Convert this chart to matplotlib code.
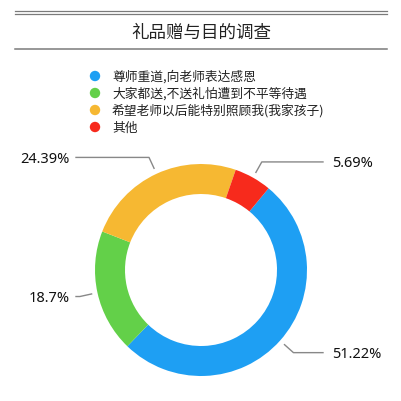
#!/usr/bin/env python3
"""Donut chart: 礼品赠与目的调查"""

import numpy as np
import matplotlib
matplotlib.use("Agg")
import matplotlib.pyplot as plt

plt.rcParams['font.family'] = ['Noto Sans CJK SC', 'DejaVu Sans']

# data
title = "礼品赠与目的调查"
categories = [
    "尊师重道,向老师表达感恩",
    "大家都送,不送礼怕遭到不平等待遇",
    "希望老师以后能特别照顾我(我家孩子)",
    "其他",
]
values = [51.22, 18.7, 24.39, 5.69]
colors = ['#1E9FF3', '#63D049', '#F6B832', '#F72A1C']

W = H = 402  # canvas in pixels, y measured from the top


def py(y):
    # pixel row (from top) -> data y (from bottom)
    return H - y


fig = plt.figure(figsize=(4.02, 4.02), dpi=100)
ax = fig.add_axes([0, 0, 1, 1])

# ring
cx, cy = 201, 271
radius = 106
start = 50.4
ax.pie(values, colors=colors, startangle=start, counterclock=False,
       radius=radius, center=(cx, py(cy)),
       wedgeprops=dict(width=30, edgecolor='none', linewidth=0))

ax.set_xlim(0, W)
ax.set_ylim(0, H)
ax.set_aspect('equal')
ax.axis('off')

# title block with rules
line_color = '#7a7a7a'
ax.plot([15, 387], [py(12.2), py(12.2)], color=line_color, lw=0.9)
ax.plot([15, 387], [py(15.2), py(15.2)], color=line_color, lw=0.9)
ax.plot([15, 387], [py(49.5), py(49.5)], color=line_color, lw=1.1)
ax.text(201, py(33), title, ha='center', va='center', fontsize=12.6, color='#222222')

# legend
for i, (cat, col) in enumerate(zip(categories, colors)):
    y = 77 + i * 17
    ax.add_patch(plt.Circle((95, py(y)), 5.2, color=col, lw=0))
    ax.text(112, py(y), cat, ha='left', va='center', fontsize=9.2, color='#222222')

# percent labels with leader lines
total = sum(values)
cum = 0.0
for v in values:
    mid = np.deg2rad(start - 360 * (cum + v / 2) / total)
    cum += v
    dx, dy = np.cos(mid), np.sin(mid)
    x0, y0 = cx + (radius + 6) * dx, py(cy) + (radius + 6) * dy
    x1, y1 = cx + (radius + 18) * dx, py(cy) + (radius + 18) * dy
    if dx < 0:
        x2, tx, ha = 76, 70, 'right'
    else:
        x2, tx, ha = 323, 332, 'left'
    ax.plot([x0, x1, x2], [y0, y1, y1], color='#888888', lw=1)
    ax.text(tx, y1 - 1, f"{v:g}%", ha=ha, va='center', fontsize=10.5,
            family=['Noto Sans', 'DejaVu Sans'], color='#111111')

fig.savefig('out.png', dpi=100)
plt.close(fig)
